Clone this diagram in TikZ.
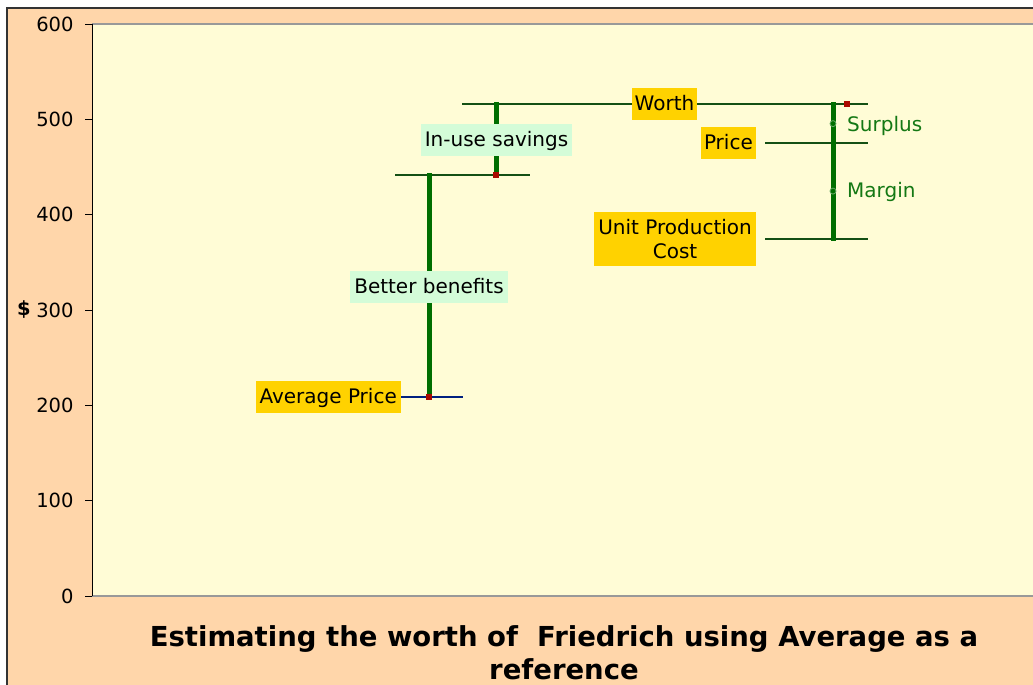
\documentclass[tikz,border=0pt]{standalone}
\usepackage{fontspec}
\setmainfont{DejaVu Sans}
\usetikzlibrary{positioning}
\definecolor{peach}{RGB}{255,214,170}
\definecolor{plotbg}{RGB}{255,252,214}
\definecolor{gold}{RGB}{255,210,0}
\definecolor{mint}{RGB}{212,252,216}
\definecolor{levelgreen}{RGB}{20,80,20}
\definecolor{spangreen}{RGB}{0,110,0}
\definecolor{taggreen}{RGB}{20,120,20}
\definecolor{markred}{RGB}{170,10,0}
\definecolor{avgblue}{RGB}{0,32,128}
\tikzset{
  lbl/.style={font=\fontsize{20}{24}\selectfont, inner xsep=4pt, inner ysep=6.5pt, align=center},
  oneline/.style={text height=16pt, text depth=3pt},
  goldbox/.style={lbl, fill=gold},
  mintbox/.style={lbl, oneline, fill=mint},
  level/.style={draw=levelgreen, line width=2pt},
  span/.style={draw=spangreen, line width=5pt},
  tag/.style={text=taggreen, anchor=west, font=\fontsize{20}{24}\selectfont, inner sep=0pt},
  redmark/.style={fill=markred, minimum size=6pt, inner sep=0pt},
  midmark/.style={circle, draw=spangreen!60, fill=spangreen, line width=0.8pt, minimum size=6pt, inner sep=0pt},
  ticklbl/.style={anchor=east, font=\fontsize{19.5}{23}\selectfont, inner sep=0pt}
}
\begin{document}
\begin{tikzpicture}[x=1pt,y=-1pt]
  \useasboundingbox (0,0) rectangle (1033,685);
  \fill[peach] (7,8) rectangle (1045,700);
  \draw[line width=2.5pt, black!80] (7,700) -- (7,8) -- (1045,8);
  \fill[plotbg] (92,24) rectangle (1045,596);
  \draw[gray!80, line width=1.5pt] (92,24) -- (1045,24);
  \draw[gray!80, line width=1.5pt] (92,596) -- (1045,596);
  \draw[line width=1pt] (92,24) -- (92,596);
  \foreach \v in {0,100,...,600}
    \draw[line width=1pt] (85,{596-0.9533*\v}) -- (92,{596-0.9533*\v})
      node[ticklbl] at (74,{596-0.9533*\v}) {\v};
  \node[ticklbl] (dollar) at (31,{596-0.9533*300}) {\textbf{\$}};
  \begin{scope}[shift={(0,596)}, y=0.9533pt]
    % levels
    \coordinate (avgL) at (401,209); \coordinate (avgR) at (463,209);
    \coordinate (useL) at (395,442); \coordinate (useR) at (530,442);
    \coordinate (worthL) at (462,516); \coordinate (worthR) at (868,516);
    \coordinate (priceL) at (765,475); \coordinate (priceR) at (868,475);
    \coordinate (costL) at (765,374.5); \coordinate (costR) at (868,374.5);
    \draw[avgblue, line width=2pt] (avgL) -- (avgR);
    \draw[level] (useL) -- (useR);
    \draw[level] (worthL) -- (worthR);
    \draw[level] (priceL) -- (priceR);
    \draw[level] (costL) -- (costR);
    % spans
    \coordinate (benBot) at (429,209); \coordinate (benTop) at (429,444);
    \coordinate (useBot) at (496,442); \coordinate (useTop) at (496,518);
    \coordinate (marBot) at (833,372.5); \coordinate (marTop) at (833,518);
    \draw[span] (benBot) -- (benTop);
    \draw[span] (useBot) -- (useTop);
    \draw[span] (marBot) -- (marTop);
    \node[midmark] (surplusdot) at (833,495.5) {};
    \node[midmark] (margindot) at (833,424.75) {};
    \node[tag] (surplus) at (847,493) {Surplus};
    \node[tag] (margin) at (847,424) {Margin};
    \node[redmark] (avgmark) at (429,209) {};
    \node[redmark] (usemark) at (496,442) {};
    \node[redmark] (worthmark) at (847,516) {};
    % labels
    \node[goldbox, oneline, left=0pt of avgL] (avg) {Average Price};
    \node[goldbox, oneline, inner xsep=3pt] (worth) at (664.5,516) {Worth};
    \node[goldbox, oneline, anchor=east, inner xsep=3pt] (price) at (756,475) {Price};
    \node[goldbox, anchor=east, inner ysep=7pt] (cost) at (756,374.5) {Unit Production\\Cost};
    \node[mintbox] (use) at (496.5,478) {In-use savings};
    \node[mintbox] (ben) at (429,324.5) {Better benefits};
  \end{scope}
  \node[font=\bfseries\fontsize{27.5}{33}\selectfont, align=center] (title) at (564,653)
    {Estimating the worth of\ \ Friedrich using Average as a\\reference};
\end{tikzpicture}
\end{document}
